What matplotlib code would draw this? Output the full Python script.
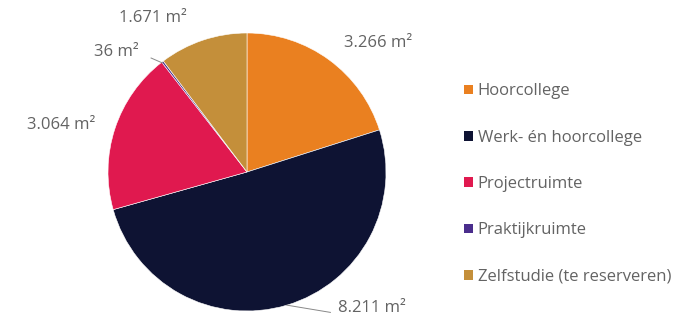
import matplotlib
matplotlib.use("Agg")
from matplotlib import pyplot as plt
from matplotlib.patches import Patch
import numpy as np

plt.rcParams['font.family'] = ['Open Sans', 'DejaVu Sans']

categories = ['Hoorcollege', 'Werk- én hoorcollege', 'Projectruimte',
              'Praktijkruimte', 'Zelfstudie (te reserveren)']
areas = [3266, 8211, 3064, 36, 1671]
area_labels = ['3.266 m²', '8.211 m²', '3.064 m²', '36 m²', '1.671 m²']
colors = ['#EA8020', '#0E1333', '#E0194F', '#4A2D8C', '#C48F3A']

# label spots in pie units (radius = 1), tuned by eye
label_pos = [(0.94, 0.93), (0.90, -0.98), (-1.34, 0.34), (-0.94, 0.86), (-0.68, 1.11)]
leader = [False, True, False, True, False]

fig = plt.figure(figsize=(6.95, 3.26), dpi=100)
W, H = 695, 326
r_px = 139
cx, cy = 247, 154
ax = fig.add_axes([(cx - 1.75 * r_px) / W, (cy - 1.15 * r_px) / H,
                   3.5 * r_px / W, 2.3 * r_px / H])
wedges, _ = ax.pie(areas, colors=colors, startangle=90, counterclock=False,
                   wedgeprops=dict(edgecolor='white', linewidth=0.4))
ax.set_xlim(-1.75, 1.75)
ax.set_ylim(-1.15, 1.15)
ax.set_aspect('equal')
ax.axis('off')

txt_col = '#636363'
for w, lab, (lx, ly), ld in zip(wedges, area_labels, label_pos, leader):
    ax.text(lx, ly, lab, ha='center', va='center', fontsize=12, color=txt_col)
    if ld:
        ang = np.deg2rad((w.theta1 + w.theta2) / 2)
        ex, ey = np.cos(ang), np.sin(ang)
        if lx > 0:
            ax.plot([ex, lx - 0.30], [ey, ly - 0.03], color='#888888', lw=0.7)
        else:
            ax.plot([lx + 0.25, ex], [ly - 0.04, ey - 0.01], color='#888888', lw=0.7)

handles = [Patch(facecolor=c, edgecolor='none') for c in colors]
fig.legend(handles, categories, loc='upper left', bbox_to_anchor=(456 / W, 1 - 75 / H),
           frameon=False, fontsize=12, labelcolor=txt_col, labelspacing=1.82,
           handlelength=0.5, handleheight=0.5, handletextpad=0.3, borderpad=0)

fig.savefig('out.png', dpi=100, facecolor='white')
